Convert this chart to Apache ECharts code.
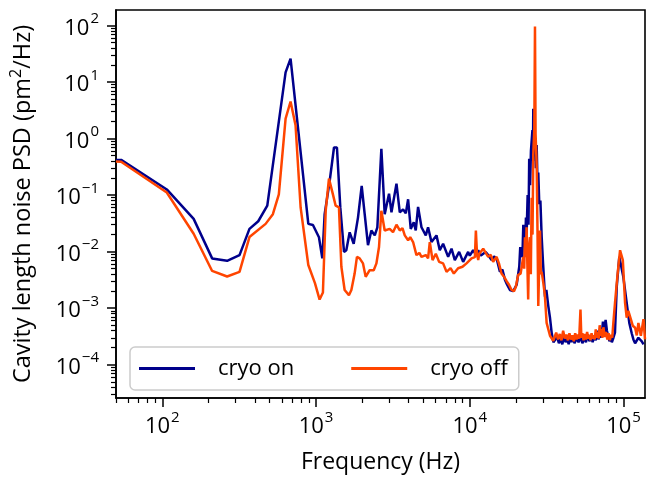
<!DOCTYPE html>
<html><head><meta charset="utf-8">
<script src="https://cdn.jsdelivr.net/npm/echarts@6/dist/echarts.min.js"></script>
<style>html,body{margin:0;padding:0;background:#fff}#c{width:649px;height:479px}</style>
</head><body><div id="c"></div>
<script>
// ---- data (frequency in Hz, PSD in pm^2/Hz) ----
const freqOn = [50,54,107,160,211,264,318,369,421,482,634,683,891,955,1045,1099,1138,1227,1309,1368,1439,1521,1574,1655,1758,1875,1982,2073,2178,2291,2410,2506,2661,2797,2985,3096,3337,3506,3685,3837,3972,4132,4323,4454,4612,4853,5176,5357,5636,6075,6383,6709,7236,7610,7995,8532,9058,9763,10000,10520,11000,11350,11800,12230,12700,13180,13860,14400,14950,15710,16300,16930,17500,18250,19180,20180,20990,21300,21750,22000,22300,22610,22900,23200,23420,23800,24100,24360,24700,25000,25570,25750,25890,26200,26560,26900,27240,27600,27910,28330,28800,29370,30000,30860,31500,32410,33200,34090,35000,36000,37000,38000,39000,40000,41000,42000,43000,44000,45000,46000,47000,48000,49500,51000,52500,54000,55500,57000,58500,60000,61500,63000,64500,66000,67500,69000,70500,72000,73500,75000,76500,78000,79500,81000,82500,84000,86000,88000,90400,93900,99700,104900,109100,113100,116000,119000,122000,125000,128000,131500,135000,138000];
const psdOn = [0.42,0.42,0.126,0.038,0.0076,0.0069,0.0087,0.0253,0.0345,0.065,14.8,25.9,0.031,0.0297,0.018,0.0076,0.046,0.177,0.695,0.695,0.06,0.0099,0.0106,0.022,0.0138,0.040,0.145,0.046,0.013,0.0237,0.0194,0.027,0.656,0.046,0.106,0.0495,0.159,0.0495,0.056,0.0475,0.0845,0.0253,0.033,0.0237,0.062,0.027,0.0194,0.027,0.0148,0.0194,0.0106,0.0138,0.0081,0.0113,0.0071,0.0099,0.0066,0.0099,0.0085,0.0106,0.0088,0.0106,0.0085,0.0092,0.0098,0.0087,0.0071,0.0082,0.0076,0.0044,0.0048,0.0032,0.0026,0.0021,0.0020,0.0026,0.0054,0.012,0.0121,0.008,0.03,0.029,0.012,0.04,0.0194,0.1,0.03,0.44,0.15,0.6,1.42,0.4,3.37,0.5,0.9,0.3,0.77,0.15,0.25,0.069,0.08,0.018,0.006,0.0016,0.0021,0.0011,0.0007,3.7e-4,2.5e-4,2.6e-4,3.1e-4,2.4e-4,2.9e-4,2.3e-4,3.2e-4,2.5e-4,2.9e-4,2.3e-4,3.0e-4,2.5e-4,3.3e-4,2.4e-4,2.9e-4,2.5e-4,3.1e-4,2.4e-4,3.0e-4,2.5e-4,3.4e-4,2.6e-4,3.1e-4,2.5e-4,3.3e-4,2.7e-4,4.0e-4,2.8e-4,4.5e-4,3.0e-4,5.8e-4,3.5e-4,6.2e-4,4.0e-4,3.2e-4,2.6e-4,3.0e-4,2.5e-4,3.0e-4,3.7e-4,2.4e-3,8.1e-3,3.6e-3,1.24e-3,5.5e-4,3.6e-4,2.8e-4,2.4e-4,2.5e-4,3.0e-4,3.25e-4,2.6e-4,2.3e-4];

const freqOff = [50,54,107,160,211,264,318,369,470,524,573,634,683,736,794,891,984,1055,1109,1156,1214,1288,1342,1410,1462,1535,1637,1698,1783,1846,1922,2021,2104,2234,2373,2471,2569,2661,2797,3015,3168,3337,3506,3650,3778,3972,4100,4280,4500,4700,4853,5176,5357,5495,5728,6015,6320,6709,7063,7500,7878,8400,8970,9525,10270,10800,10960,11150,11350,11530,12230,12700,13180,13700,14190,14950,15480,16090,16700,17370,18000,18720,19400,19950,20650,21420,21900,22270,22600,22850,23150,23420,23700,23990,24300,24640,24950,25270,25600,25890,26300,26560,26800,27240,27600,27910,28300,28640,29000,29370,30090,30800,31620,33270,34930,35500,36500,37500,38500,39500,40500,41500,42500,43500,44500,45500,46500,47500,48500,49500,50500,51500,52500,53200,54000,55000,56000,57000,58000,59000,60000,61000,62000,63000,64000,65000,66000,67000,68000,69000,70000,71000,72000,73000,74000,75500,77000,78500,80000,81500,83000,84500,85900,88070,91200,95000,99000,102400,104900,107500,110400,114900,119000,122000,125000,129700,134900,138000];
const psdOff = [0.395,0.39,0.111,0.0207,0.00456,0.00363,0.00438,0.0181,0.031,0.046,0.103,2.25,4.53,1.72,0.0605,0.0058,0.00277,0.00142,0.0019,0.053,0.196,0.103,0.065,0.0605,0.0054,0.0021,0.0017,0.0021,0.0041,0.0081,0.0076,0.0062,0.0036,0.0047,0.0047,0.0062,0.0121,0.053,0.0237,0.0253,0.0221,0.030,0.0237,0.026,0.0194,0.0159,0.018,0.0148,0.0087,0.0095,0.0081,0.0087,0.0076,0.0148,0.0071,0.0092,0.0066,0.0062,0.0044,0.0051,0.0041,0.0051,0.0054,0.0062,0.0076,0.008,0.0237,0.009,0.0071,0.0092,0.0113,0.0095,0.0081,0.0088,0.0066,0.0081,0.0062,0.0041,0.0036,0.0030,0.0026,0.0021,0.0020,0.0024,0.0039,0.0041,0.006,0.0081,0.005,0.018,0.008,0.027,0.006,0.00142,0.012,0.018,0.004,0.09,0.02,0.52,1.5,96,1.2,0.345,0.02,0.00109,0.006,0.0237,0.004,0.0044,0.0028,0.0017,5.5e-4,3.25e-4,2.65e-4,3.0e-4,3.7e-4,2.8e-4,3.5e-4,2.7e-4,4.0e-4,2.9e-4,3.4e-4,2.7e-4,3.6e-4,2.8e-4,3.3e-4,2.6e-4,3.6e-4,2.8e-4,3.4e-4,2.9e-4,9.5e-4,3.0e-4,3.6e-4,2.7e-4,3.5e-4,2.8e-4,3.8e-4,2.9e-4,3.4e-4,2.7e-4,3.6e-4,2.9e-4,3.3e-4,2.8e-4,4.2e-4,3.0e-4,3.8e-4,2.9e-4,5.0e-4,3.2e-4,4.3e-4,3.0e-4,4.6e-4,3.1e-4,3.8e-4,2.8e-4,3.6e-4,2.7e-4,3.4e-4,3.0e-4,5.5e-4,1.24e-3,3.6e-3,1.06e-2,7.1e-3,1.24e-3,6.8e-4,9e-4,8.3e-4,4.9e-4,4.5e-4,3.3e-4,5.5e-4,3.25e-4,6.4e-4,2.8e-4];

const seriesNames = ['cryo on', 'cryo off'];
const xTickValues = [1e2, 1e3, 1e4, 1e5];
const yTickValues = [1e-4, 1e-3, 1e-2, 1e-1, 1e0, 1e1, 1e2];
const xRange = [50, 1.38e5];
const yRange = [2.58e-5, 188];

// ---- helpers ----
function minorTicks(lo, hi) {
  const out = [];
  for (let e = Math.floor(Math.log10(lo)); e <= Math.ceil(Math.log10(hi)); e++) {
    for (let m = 2; m <= 9; m++) {
      const v = m * Math.pow(10, e);
      if (v >= lo && v <= hi) out.push(v);
    }
  }
  return out;
}
function powLabel(v) {
  const e = Math.round(Math.log10(v));
  const s = e < 0 ? '\u2212' + (-e) : String(e);
  return '{b|10}{s|' + s + '}';
}
const FONT = 'Open Sans';
const rich = {
  b: { fontSize: 22, fontFamily: FONT, color: '#000', lineHeight: 28, verticalAlign: 'bottom' },
  s: { fontSize: 15, fontFamily: FONT, color: '#000', lineHeight: 28, verticalAlign: 'top', padding: [0, 0, 0, 1] }
};
const pair = (f, p) => f.map((x, i) => [x, p[i]]);

const chart = echarts.init(document.getElementById('c'), null, { renderer: 'canvas' });
const axisCommon = { lineStyle: { color: '#000', width: 1.6 } };

chart.setOption({
  animation: false,
  backgroundColor: '#fff',
  grid: { left: 116, right: 4, top: 10, bottom: 76, show: true, borderColor: '#000', borderWidth: 1.6, backgroundColor: 'transparent' },
  legend: {
    left: 130, top: 347,
    data: seriesNames,
    icon: 'rect', itemWidth: 56, itemHeight: 3, itemGap: 57,
    padding: [10, 11, 10, 9],
    backgroundColor: '#fff', borderColor: '#cccccc', borderWidth: 1.5, borderRadius: 5,
    textStyle: { fontFamily: FONT, fontSize: 22, color: '#000', padding: [0, 0, 0, 18], lineHeight: 23 }
  },
  xAxis: [
    {
      type: 'log', logBase: 10, min: xRange[0], max: xRange[1],
      name: 'Frequency (Hz)', nameLocation: 'middle', nameGap: 53,
      nameTextStyle: { fontFamily: FONT, fontSize: 23, color: '#000' },
      axisLine: { show: true, ...axisCommon },
      axisTick: { show: true, length: 9, customValues: xTickValues, lineStyle: { color: '#000', width: 1.5 } },
      axisLabel: { show: true, margin: 12, customValues: xTickValues, formatter: powLabel, rich: rich },
      splitLine: { show: false }, minorTick: { show: false }
    },
    {
      type: 'log', logBase: 10, min: xRange[0], max: xRange[1], position: 'bottom',
      axisLine: { show: false },
      axisTick: { show: true, length: 5, customValues: minorTicks(xRange[0], xRange[1]), lineStyle: { color: '#000', width: 1.2 } },
      axisLabel: { show: false }, splitLine: { show: false }
    }
  ],
  yAxis: [
    {
      type: 'log', logBase: 10, min: yRange[0], max: yRange[1],
      name: 'Cavity length noise PSD (pm{s|2}/Hz)', nameLocation: 'middle', nameGap: 78, nameRotate: 90,
      nameTextStyle: { fontFamily: FONT, fontSize: 23.5, color: '#000',
        rich: { s: { fontFamily: FONT, fontSize: 16, color: '#000', verticalAlign: 'top', lineHeight: 30 } } },
      axisLine: { show: true, ...axisCommon },
      axisTick: { show: true, length: 9, customValues: yTickValues, lineStyle: { color: '#000', width: 1.5 } },
      axisLabel: { show: true, margin: 17, customValues: yTickValues, formatter: powLabel, rich: rich },
      splitLine: { show: false }, minorTick: { show: false }
    },
    {
      type: 'log', logBase: 10, min: yRange[0], max: yRange[1], position: 'left',
      axisLine: { show: false },
      axisTick: { show: true, length: 5, customValues: minorTicks(yRange[0], yRange[1]), lineStyle: { color: '#000', width: 1.2 } },
      axisLabel: { show: false }, splitLine: { show: false }
    }
  ],
  series: [
    { name: seriesNames[0], type: 'line', data: pair(freqOn, psdOn), showSymbol: false, symbol: 'none',
      lineStyle: { color: '#00008B', width: 2.5 }, itemStyle: { color: '#00008B' }, xAxisIndex: 0, yAxisIndex: 0 },
    { name: seriesNames[1], type: 'line', data: pair(freqOff, psdOff), showSymbol: false, symbol: 'none',
      lineStyle: { color: '#FF4500', width: 2.5 }, itemStyle: { color: '#FF4500' }, xAxisIndex: 0, yAxisIndex: 0 }
  ]
});
</script></body></html>
